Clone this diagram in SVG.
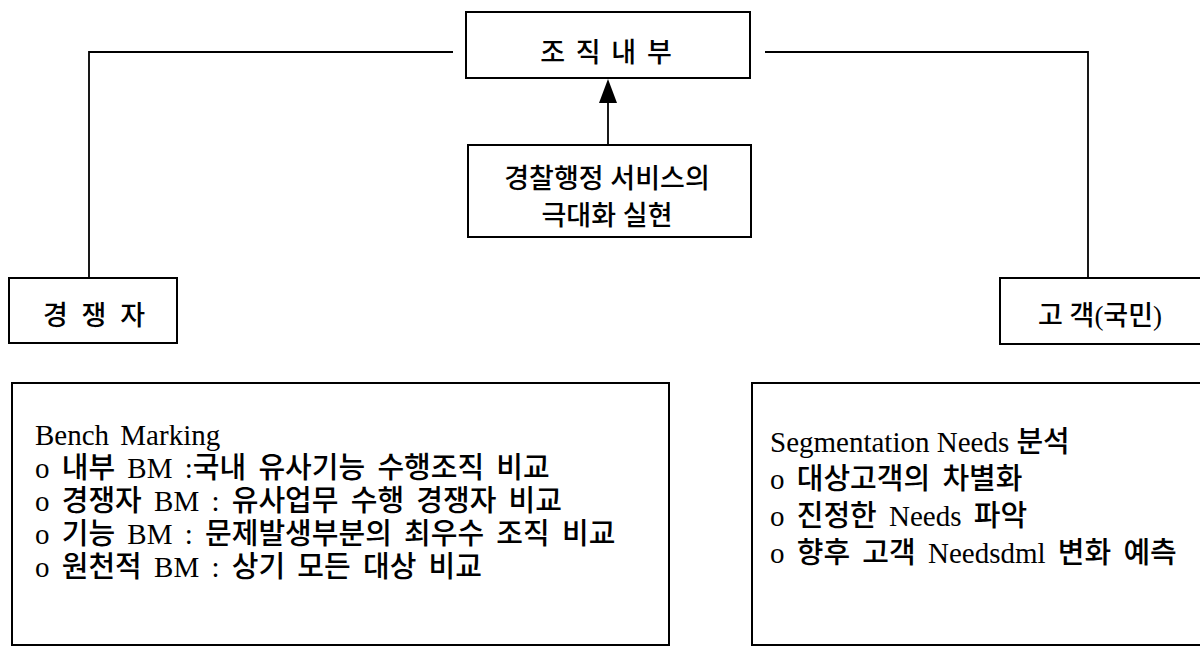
<svg xmlns="http://www.w3.org/2000/svg" width="1200" height="649" viewBox="0 0 1200 649">
<style>
.box{fill:#fff;stroke:#000;stroke-width:2}
.con{fill:none;stroke:#000;stroke-width:1.8}
.t{font-family:"Liberation Serif","Noto Sans CJK KR",serif;fill:#000;font-weight:500}
.h{font-size:27px;text-anchor:middle}
.b{font-size:29px}
</style>
<rect width="1200" height="649" fill="#fff"/>
<g id="connectors">
<polyline class="con" points="453,52 89,52 89,278"/>
<polyline class="con" points="765,52 1088,52 1088,278"/>
<line class="con" x1="608" y1="145" x2="608" y2="100"/>
<polygon points="608,79 599,103 617,103" fill="#000"/>
</g>
<g id="n-internal">
<rect class="box" x="466" y="12" width="284" height="66"/>
<text class="t h" x="606" y="62" word-spacing="4">조 직 내 부</text>
</g>
<g id="n-center">
<rect class="box" x="468" y="145" width="283" height="92"/>
<text class="t h" x="607" y="188" font-size="28">경찰행정 서비스의</text>
<text class="t h" x="607" y="225" font-size="28">극대화 실현</text>
</g>
<g id="n-competitor">
<rect class="box" x="9" y="278" width="168" height="65"/>
<text class="t h" x="94" y="325" word-spacing="7">경 쟁 자</text>
</g>
<g id="n-customer">
<rect class="box" x="1000" y="278" width="210" height="66"/>
<text class="t h" x="1100" y="325">고 객(국민)</text>
</g>
<g id="n-benchmarking">
<rect class="box" x="12" y="383" width="657" height="262"/>
<text class="t b" x="35" y="445" word-spacing="4">Bench Marking</text>
<text class="t b" x="35" y="478" word-spacing="5">o 내부 BM :국내 유사기능 수행조직 비교</text>
<text class="t b" x="35" y="511" word-spacing="5">o 경쟁자 BM : 유사업무 수행 경쟁자 비교</text>
<text class="t b" x="35" y="544" word-spacing="5">o 기능 BM : 문제발생부분의 최우수 조직 비교</text>
<text class="t b" x="35" y="577" word-spacing="5">o 원천적 BM : 상기 모든 대상 비교</text>
</g>
<g id="n-segmentation">
<rect class="box" x="752" y="383" width="460" height="262"/>
<text class="t b" x="770" y="452">Segmentation Needs 분석</text>
<text class="t b" x="770" y="489" word-spacing="5">o 대상고객의 차별화</text>
<text class="t b" x="770" y="526" word-spacing="5">o 진정한 Needs 파악</text>
<text class="t b" x="770" y="563" word-spacing="5">o 향후 고객 Needsdml 변화 예측</text>
</g>
</svg>
